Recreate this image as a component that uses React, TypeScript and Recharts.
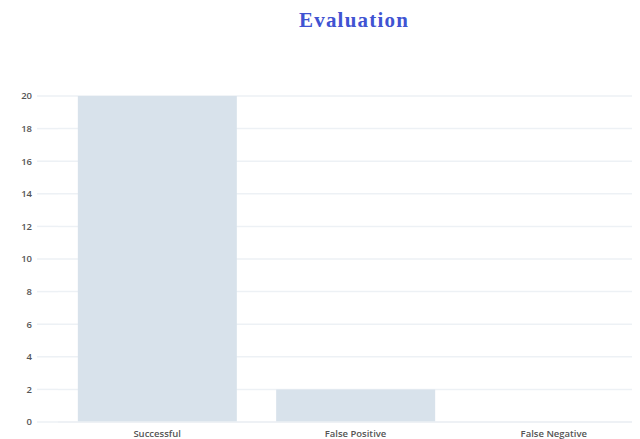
import React from "react";
import { BarChart, Bar, XAxis, YAxis, CartesianGrid } from "recharts";

const categories = ["Successful", "False Positive", "False Negative"];
const counts = [20, 2, 0];
const yTicks = [0, 2, 4, 6, 8, 10, 12, 14, 16, 18, 20];

const data = categories.map((name, i) => ({ name, value: counts[i] }));

export default function App() {
  return (
    <div style={{ position: "relative", width: 624, height: 431, overflow: "hidden", background: "#fff" }}>
      <div
        style={{
          position: "absolute",
          left: 246,
          width: 200,
          top: 0,
          textAlign: "center",
          fontFamily: "'Liberation Serif', 'Times New Roman', serif",
          fontWeight: 700,
          fontSize: 21,
          letterSpacing: 1.2,
          color: "#4053d2",
          lineHeight: "24px",
        }}
      >
        Evaluation
      </div>
      <div style={{ position: "absolute", left: 0, top: 0 }}>
        <BarChart
          width={645}
          height={431}
          data={data}
          margin={{ top: 88, right: 0, bottom: 0, left: 0 }}
          barCategoryGap="10%"
        >
          <CartesianGrid vertical={false} stroke="#edf1f5" strokeWidth={1.5} />
          <XAxis
            dataKey="name"
            height={17}
            axisLine={{ stroke: "#edf1f5", strokeWidth: 1.5 }}
            tickLine={false}
            tickSize={0}
            tickMargin={8}
            interval={0}
            tick={{ fill: "#555", fontSize: 9.5, fontWeight: 600, fontFamily: "'Open Sans', sans-serif" }}
          />
          <YAxis
            domain={[0, 20]}
            ticks={yTicks}
            width={50}
            axisLine={false}
            tickSize={21}
            tickMargin={5}
            tickLine={{ stroke: "#edf1f5", strokeWidth: 1.5 }}
            tick={{ fill: "#555", fontSize: 9.5, fontWeight: 600, fontFamily: "'Open Sans', sans-serif" }}
          />
          <Bar dataKey="value" fill="#d8e2eb" isAnimationActive={false} />
        </BarChart>
      </div>
    </div>
  );
}
